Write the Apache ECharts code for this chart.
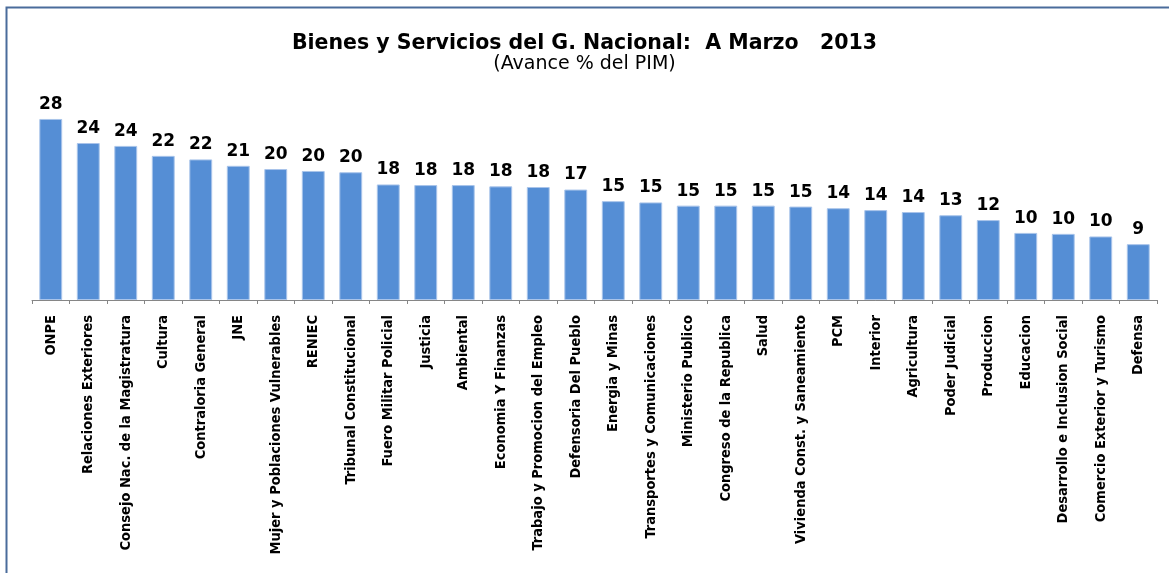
<!DOCTYPE html>
<html>
<head>
<meta charset="utf-8">
<script src="https://cdn.jsdelivr.net/npm/echarts@6/dist/echarts.min.js"></script>
<style>
  html, body { margin: 0; padding: 0; background: #fff; }
  #chart { width: 1169px; height: 573px; }
</style>
</head>
<body>
<div id="chart"></div>
<script>
// entidades (orden del grafico)
var categorias = [
  'ONPE', 'Relaciones Exteriores', 'Consejo Nac. de la Magistratura', 'Cultura',
  'Contraloria General', 'JNE', 'Mujer y Poblaciones Vulnerables', 'RENIEC',
  'Tribunal Constitucional', 'Fuero Militar Policial', 'Justicia', 'Ambiental',
  'Economia Y Finanzas', 'Trabajo y Promocion del Empleo', 'Defensoria Del Pueblo',
  'Energia y Minas', 'Transportes y Comunicaciones', 'Ministerio Publico',
  'Congreso de la Republica', 'Salud', 'Vivienda Const. y Saneamiento', 'PCM',
  'Interior', 'Agricultura', 'Poder Judicial', 'Produccion', 'Educacion',
  'Desarrollo e Inclusion Social', 'Comercio Exterior y Turismo', 'Defensa'
];
// avance % del PIM (estimado de la altura de las barras)
var avance = [
  28.2, 24.45, 24.0, 22.45, 21.9, 20.9, 20.4, 20.1, 19.9, 18.0,
  17.9, 17.9, 17.7, 17.6, 17.2, 15.4, 15.2, 14.7, 14.7, 14.7,
  14.55, 14.3, 14.0, 13.7, 13.2, 12.45, 10.45, 10.3, 9.9, 8.7
];

var chart = echarts.init(document.getElementById('chart'));

var option = {
  backgroundColor: '#fff',
  animation: false,
  title: {
    text: 'Bienes y Servicios del G. Nacional:  A Marzo   2013',
    subtext: '(Avance % del PIM)',
    left: 'center',
    top: 28,
    itemGap: 1,
    textStyle: {
      fontFamily: 'DejaVu Sans',
      fontWeight: 'bold',
      fontSize: 20.5,
      color: '#000'
    },
    subtextStyle: {
      fontFamily: 'DejaVu Sans',
      fontSize: 19,
      color: '#000'
    }
  },
  // marco del grafico
  graphic: [{
    type: 'rect',
    shape: { x: 6.5, y: 7.5, width: 1300, height: 700 },
    style: { fill: 'none', stroke: '#4a6c9b', lineWidth: 2 },
    silent: true
  }],
  grid: {
    left: 32,
    right: 12,
    top: 107.4,
    bottom: 273,
    outerBoundsMode: 'none'
  },
  xAxis: {
    type: 'category',
    data: categorias,
    axisLine: { lineStyle: { color: '#868686', width: 1 } },
    axisTick: { show: true, length: 4, lineStyle: { color: '#868686' } },
    axisLabel: {
      rotate: 90,
      interval: 0,
      margin: 15,
      fontFamily: 'DejaVu Sans Condensed, sans-serif',
      fontWeight: 'bold',
      fontSize: 14.5,
      color: '#000'
    }
  },
  yAxis: {
    type: 'value',
    min: 0,
    max: 30,
    show: false,
    splitLine: { show: false }
  },
  series: [{
    name: 'Avance',
    type: 'bar',
    data: avance,
    barCategoryGap: '39%',
    itemStyle: {
      color: '#558ed5',
      borderColor: '#a9c4ea',
      borderWidth: 1
    },
    label: {
      show: true,
      position: 'top',
      distance: 6,
      fontFamily: 'DejaVu Sans',
      fontWeight: 'bold',
      fontSize: 17,
      color: '#000',
      formatter: function (p) { return Math.round(p.value); }
    }
  }]
};

chart.setOption(option);
</script>
</body>
</html>
